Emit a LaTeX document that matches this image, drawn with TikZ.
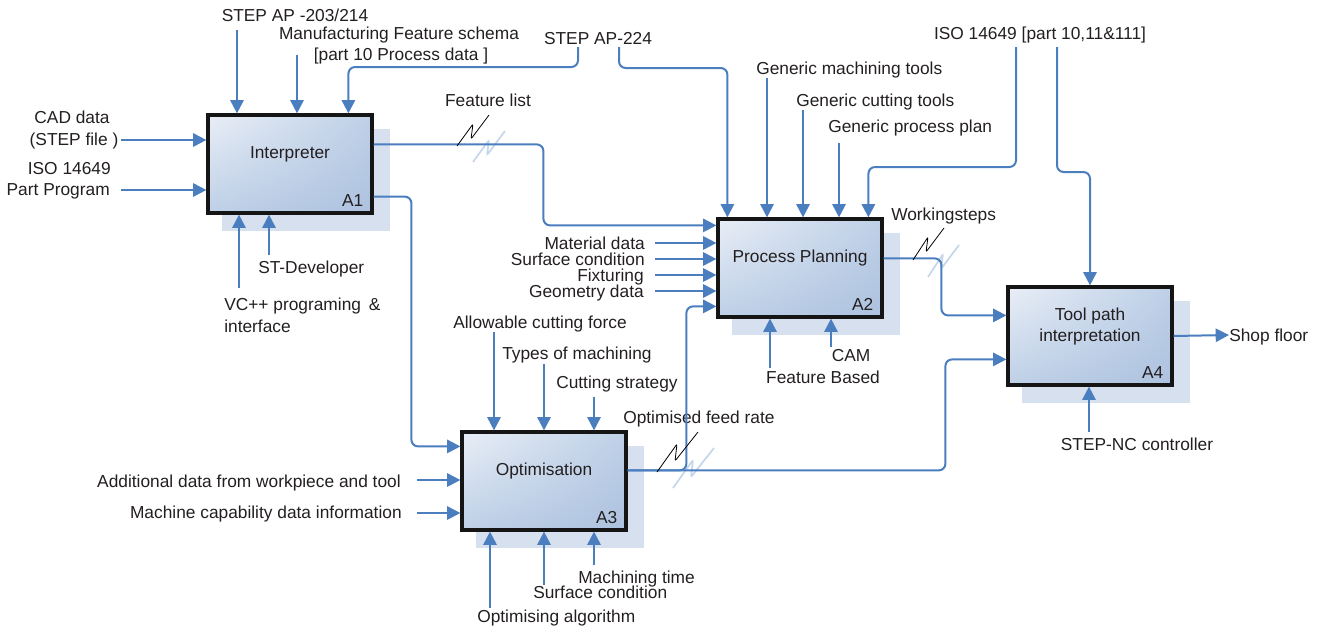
\documentclass[tikz,border=0pt]{standalone}
\usepackage{fontspec}
\setmainfont{Liberation Sans}
\usetikzlibrary{arrows.meta,calc,backgrounds,shadings}
\definecolor{linec}{HTML}{4A7EBF}
\definecolor{shadowc}{HTML}{D6E0EE}
\definecolor{squigc}{HTML}{C6D6EB}
\definecolor{boxul}{HTML}{E9EEF6}
\definecolor{boxmid}{HTML}{BED0E7}
\definecolor{boxlr}{HTML}{ADC2DF}
\definecolor{boxline}{HTML}{151515}
\definecolor{txtc}{HTML}{231F20}
\begin{document}
\begin{tikzpicture}[x=0.75pt,y=-0.75pt,
  tip/.tip={Triangle[length=10pt,width=10pt]},
  flow/.style={draw=linec,line width=1.5pt,rounded corners=5pt,-tip},
  procbox/.style={draw=boxline,line width=2.4pt,minimum width=123pt,minimum height=73.5pt,inner sep=0pt,
    upper left=boxul,upper right=boxmid,lower left=boxmid,lower right=boxlr},
  lbl/.style={inner sep=0pt,text height=9.3pt,text depth=0pt,font=\fontsize{13}{16}\selectfont,text=txtc},
  squigk/.style={draw=black,line width=0.6pt,rounded corners=1.5pt},
  squigl/.style={draw=squigc,line width=1.3pt,rounded corners=1.5pt}]
\useasboundingbox (0,0) rectangle (1320,625);

% boxes
\node[procbox] (A1) at (290,164) {};
\node[procbox] (A2) at (800,268) {};
\node[procbox] (A3) at (544,481) {};
\node[procbox] (A4) at (1090,336) {};

\begin{scope}[on background layer]
  \foreach \b in {A1,A2,A3,A4}
    \fill[shadowc] ($(\b.south west)+(16,16)$) rectangle ($(\b.north east)+(16,16)$);
  \draw[squigl] (473,162) -- ++(16,-22) -- ++(-2,15) -- ++(18,-24);
  \draw[squigl] (928,277) -- ++(15,-23) -- ++(-2,15) -- ++(18,-24);
  \draw[squigl] (673,488) -- ++(20,-28) -- ++(-2,17) -- ++(23,-29);
\end{scope}

% box texts
\node[lbl] (A1t) at ($(A1)+(0,-12)$) {Interpreter};
\node[lbl] (A2t) at ($(A2)+(0,-12)$) {Process Planning};
\node[lbl] (A3t) at ($(A3)+(0,-12)$) {Optimisation};
\node[lbl] (A4t1) at ($(A4)+(0,-22)$) {Tool path};
\node[lbl] (A4t2) at ($(A4)+(0,-1)$) {interpretation};
\foreach \b in {A1,A2,A3,A4}
  \node[lbl,anchor=base east] (\b n) at ($(\b.south east)+(-10,-8)$) {\b};

% labels
\node[lbl] (t1) at (295,15) {STEP AP -203/214};
\node[lbl] (t2a) at (399,33) {Manufacturing Feature schema};
\node[lbl] (t2b) at (401,54) {[part 10 Process data ]};
\node[lbl] (t3) at (598,38) {STEP AP-224};
\node[lbl] (t4) at (488,100) {Feature list};
\node[lbl] (t5) at (1040,33) {ISO 14649 [part 10,11\&111]};
\node[lbl,anchor=west] (t6) at (756,68) {Generic machining tools};
\node[lbl,anchor=west] (t7) at (796,100) {Generic cutting tools};
\node[lbl,anchor=west] (t8) at (828,126) {Generic process plan};
\node[lbl,anchor=west] (t9) at (891,214) {Workingsteps};
\node[lbl,anchor=east] (t10) at (645,243) {Material data};
\node[lbl,anchor=east] (t11) at (645,259) {Surface condition};
\node[lbl,anchor=east] (t12) at (644,275) {Fixturing};
\node[lbl,anchor=east] (t13) at (644,291) {Geometry data};
\node[lbl] (t14) at (851,355) {CAM};
\node[lbl] (t15) at (823,377) {Feature Based};
\node[lbl,anchor=west] (sf) at (1229,335) {Shop floor};
\node[lbl] (t17) at (1137,444) {STEP-NC controller};
\node[lbl] (t18a) at (72,117) {CAD data};
\node[lbl] (t18b) at (74,139) {(STEP file )};
\node[lbl,anchor=east] (t19a) at (111,168) {ISO 14649};
\node[lbl,anchor=east] (t19b) at (110,189) {Part Program};
\node[lbl,anchor=west] (t20) at (258,267) {ST-Developer};
\node[lbl,anchor=west] (t21a) at (224,304) {VC++ programing \,\&};
\node[lbl,anchor=west] (t21b) at (224,326) {interface};
\node[lbl,anchor=west] (t22) at (453,322) {Allowable cutting force};
\node[lbl,anchor=west] (t23) at (502,353) {Types of machining};
\node[lbl,anchor=west] (t24) at (556,382) {Cutting strategy};
\node[lbl,anchor=west] (t25) at (623,417) {Optimised feed rate};
\node[lbl,anchor=east] (t26) at (401,481) {Additional data from workpiece and tool};
\node[lbl,anchor=east] (t27) at (402,512) {Machine capability data information};
\node[lbl,anchor=west] (t28) at (578,577) {Machining time};
\node[lbl,anchor=west] (t29) at (533,592) {Surface condition};
\node[lbl,anchor=west] (t30) at (477,616) {Optimising algorithm};

% free ends
\coordinate (c1) at (237,30);
\coordinate (c2) at (297,55);
\coordinate (c3) at (578,47);
\coordinate (c4) at (619,47);
\coordinate (c5) at (121,140);
\coordinate (c6) at (121,190);
\coordinate (c7) at (239,288);
\coordinate (c8) at (269,255);
\coordinate (c9) at (767,78);
\coordinate (c10) at (803,110);
\coordinate (c11) at (839,143);
\coordinate (c12) at (1016,47);
\coordinate (c13) at (1057,47);
\coordinate (c14) at (655,243);
\coordinate (c15) at (655,259);
\coordinate (c16) at (655,275);
\coordinate (c17) at (655,291);
\coordinate (c18) at (770,368);
\coordinate (c19) at (831,347);
\coordinate (c20) at (1089,432);
\coordinate (c21) at (494,332);
\coordinate (c22) at (544,364);
\coordinate (c23) at (594,397);
\coordinate (c24) at (417,480);
\coordinate (c25) at (417,513);
\coordinate (c26) at (490,608);
\coordinate (c27) at (544,585);
\coordinate (c28) at (594,565);

% connectors into A1
\draw[flow] (c1) -- (c1 |- A1.north);
\draw[flow] (c2) -- (c2 |- A1.north);
\draw[flow] (c3) -- ++(0,20) -| ($(A1.north west)+(142,0)$);
\draw[flow] (c5) -- (c5 -| A1.west);
\draw[flow] (c6) -- (c6 -| A1.west);
\draw[flow] (c7) -- (c7 |- A1.south);
\draw[flow] (c8) -- (c8 |- A1.south);
% into A2
\draw[flow] (c4) -- ++(0,21) -| ($(A2.north west)+(11,0)$);
\draw[flow] (c9) -- (c9 |- A2.north);
\draw[flow] (c10) -- (c10 |- A2.north);
\draw[flow] (c11) -- (c11 |- A2.north);
\draw[flow] (c12) -- ++(0,120) -| ($(A2.north west)+(152,0)$);
\draw[flow] ($(A1.north east)+(0,31)$) -| ($(A2.north west)+(-173,8)$) -- ($(A2.north west)+(0,8)$);
\foreach \c in {c14,c15,c16,c17} \draw[flow] (\c) -- (\c -| A2.west);
\draw[flow] (c18) -- (c18 |- A2.south);
\draw[flow] (c19) -- (c19 |- A2.south);
% into A3
\draw[flow] ($(A1.south east)+(0,-18)$) -| ($(A3.north west)+(-49,16)$) -- ($(A3.north west)+(0,16)$);
\foreach \c in {c21,c22,c23} \draw[flow] (\c) -- (\c |- A3.north);
\foreach \c in {c24,c25} \draw[flow] (\c) -- (\c -| A3.west);
\foreach \c in {c26,c27,c28} \draw[flow] (\c) -- (\c |- A3.south);
% A3 outputs
\draw[flow] ($(A3.north east)+(0,40)$) -| ($(A2.north west)+(-30,89)$) -- ($(A2.north west)+(0,89)$);
\draw[flow] ($(A3.north east)+(0,40)$) -| ($(A4.north west)+(-61,74)$) -- ($(A4.north west)+(0,74)$);
% into A4
\draw[flow] ($(A2.north east)+(0,41)$) -| ($(A4.north west)+(-65,30)$) -- ($(A4.north west)+(0,30)$);
\draw[flow] (c13) -- ++(0,125) -| (A4.north);
\draw[flow] (c20) -- (c20 |- A4.south);
\draw[flow] (A4.east) -- (sf.west);

% squiggles
\draw[squigk] (457,146) -- ++(16,-22) -- ++(-2,15) -- ++(18,-24);
\draw[squigk] (913,260) -- ++(15,-23) -- ++(-2,15) -- ++(18,-24);
\draw[squigk] (657,472) -- ++(20,-28) -- ++(-2,17) -- ++(23,-29);
\end{tikzpicture}
\end{document}
